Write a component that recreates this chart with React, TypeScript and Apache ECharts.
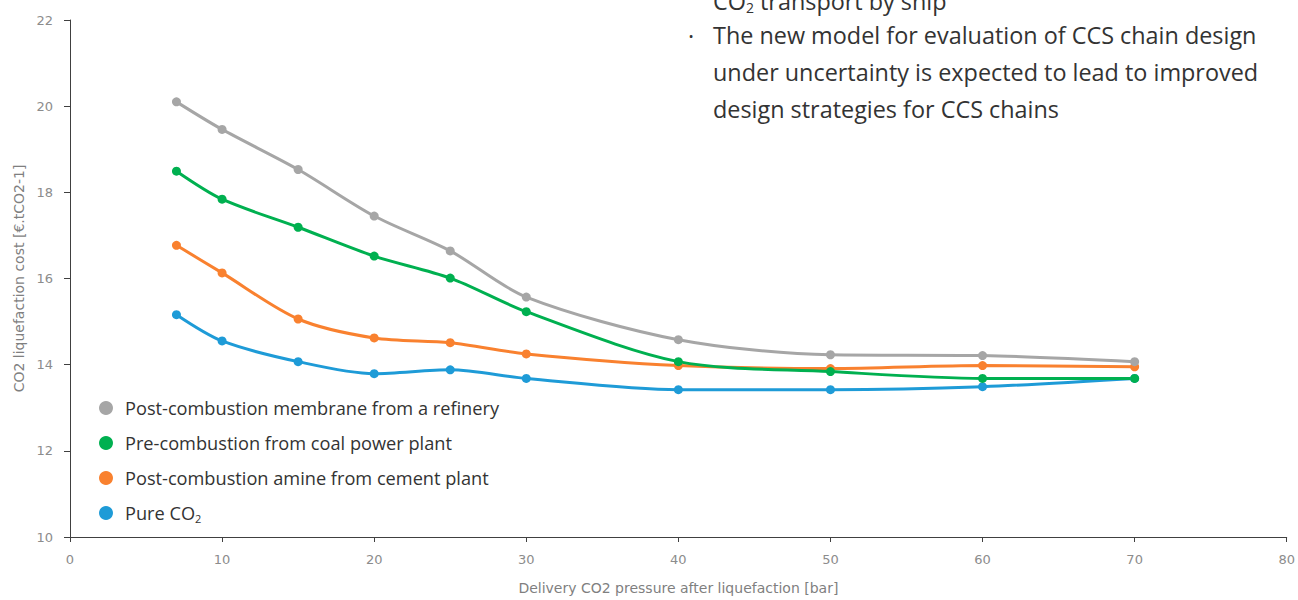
import React, { useEffect, useRef } from "react";
import * as echarts from "echarts";

const pressures = [7, 10, 15, 20, 25, 30, 40, 50, 60, 70];
const membraneRefinery = [20.1, 19.46, 18.53, 17.45, 16.64, 15.57, 14.58, 14.23, 14.21, 14.07];
const coalPowerPlant = [18.49, 17.84, 17.19, 16.52, 16.01, 15.23, 14.07, 13.84, 13.68, 13.68];
const cementPlant = [16.77, 16.13, 15.06, 14.62, 14.51, 14.25, 13.98, 13.91, 13.98, 13.95];
const pureCO2 = [15.16, 14.55, 14.07, 13.79, 13.88, 13.68, 13.42, 13.42, 13.49, 13.68];

const seriesNames = [
  "Post-combustion membrane from a refinery",
  "Pre-combustion from coal power plant",
  "Post-combustion amine from cement plant",
  "Pure CO2",
];
const seriesColors = ["#a6a6a6", "#00b050", "#f9812f", "#1e9bd7"];
const seriesData = [membraneRefinery, coalPowerPlant, cementPlant, pureCO2];

const bulletLines = [
  "The new model for evaluation of CCS chain design",
  "under uncertainty is expected to lead to improved",
  "design strategies for CCS chains",
];

const axisFont = "'DejaVu Sans', sans-serif";
const textFont = "'Open Sans', 'Noto Sans', sans-serif";

export default function App() {
  const ref = useRef<HTMLDivElement>(null);
  useEffect(() => {
    if (!ref.current) return;
    const chart = echarts.init(ref.current, null, { renderer: "svg" });
    const series: any[] = [];
    // draw order: blue, orange, green, gray (gray on top)
    for (let i = seriesNames.length - 1; i >= 0; i--) {
      series.push({
        name: seriesNames[i],
        type: "line",
        smooth: 0.3,
        symbol: "circle",
        symbolSize: 9,
        lineStyle: { width: 3, color: seriesColors[i] },
        itemStyle: { color: seriesColors[i] },
        data: pressures.map((p, k) => [p, seriesData[i][k]]),
      });
    }
    chart.setOption({
      animation: false,
      backgroundColor: "#ffffff",
      grid: { left: 70, right: 11, top: 20, bottom: 59, containLabel: false },
      xAxis: {
        type: "value",
        min: 0,
        max: 80,
        interval: 10,
        name: "Delivery CO2 pressure after liquefaction [bar]",
        nameLocation: "middle",
        nameGap: 44,
        nameTextStyle: { color: "#7f7f7f", fontSize: 14, fontFamily: axisFont },
        axisLine: { lineStyle: { color: "#404040", width: 1 } },
        axisTick: { show: true, length: 5, lineStyle: { color: "#404040" } },
        axisLabel: { color: "#8c8c8c", fontSize: 13, fontFamily: axisFont, margin: 16 },
        splitLine: { show: false },
      },
      yAxis: {
        type: "value",
        min: 10,
        max: 22,
        interval: 2,
        name: "CO2 liquefaction cost [€.tCO2-1]",
        nameLocation: "middle",
        nameGap: 40,
        nameRotate: 90,
        nameTextStyle: { color: "#7f7f7f", fontSize: 14, fontFamily: axisFont },
        axisLine: { show: true, lineStyle: { color: "#404040", width: 1 } },
        axisTick: { show: true, length: 6, lineStyle: { color: "#404040" } },
        axisLabel: { color: "#8c8c8c", fontSize: 13, fontFamily: axisFont, margin: 17 },
        splitLine: { show: false },
      },
      legend: {
        orient: "vertical",
        left: 94,
        top: 394,
        itemGap: 17,
        itemWidth: 14,
        itemHeight: 14,
        icon: "circle",
        data: seriesNames,
        formatter: (name: string) => (name === "Pure CO2" ? "Pure CO{sub|2}" : name),
        textStyle: {
          color: "#333333",
          fontSize: 18.2,
          fontFamily: textFont,
          padding: [0, 0, 0, 7],
          rich: {
            sub: { fontSize: 11, verticalAlign: "bottom", padding: [10, 0, 0, 0], color: "#333333", fontFamily: textFont },
          },
        },
      },
      graphic: [
        {
          type: "text",
          left: 713,
          top: -11,
          style: {
            text: "CO{sub|2} transport by ship",
            fill: "#333333",
            fontSize: 23.4,
            fontFamily: textFont,
            rich: { sub: { fontSize: 14, padding: [14, 0, 0, 0], fill: "#333333", fontFamily: textFont } },
          },
        },
        {
          type: "text",
          left: 688,
          top: 24,
          style: { text: "·", fill: "#333333", fontSize: 23.4, fontFamily: textFont },
        },
        ...bulletLines.map((line, i) => ({
          type: "text",
          left: 713,
          top: 23 + i * 37,
          style: { text: line, fill: "#333333", fontSize: 23.4, fontFamily: textFont },
        })),
      ],
      series,
    });
    return () => chart.dispose();
  }, []);
  return (
    <div
      ref={ref}
      style={{ position: "fixed", left: 0, top: 0, width: 1298, height: 600 }}
    />
  );
}
